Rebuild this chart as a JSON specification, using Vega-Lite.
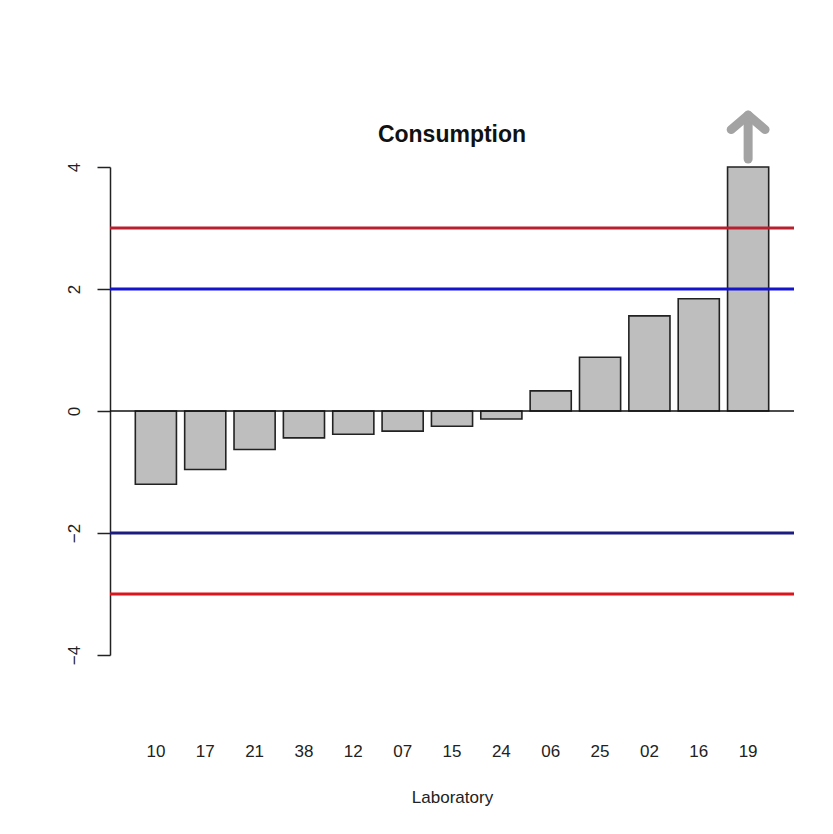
{
  "$schema": "https://vega.github.io/schema/vega-lite/v6.json",
  "autosize": "none",
  "width": 684,
  "height": 488,
  "padding": {"left": 110, "top": 167, "right": 39, "bottom": 179},
  "background": "white",
  "title": {
    "text": "Consumption",
    "font": "Liberation Sans",
    "fontSize": 23,
    "fontWeight": "bold",
    "color": "#111",
    "anchor": "middle",
    "frame": "group",
    "offset": -36
  },
  "datasets": {
    "labs": [
      {"lab": "10", "z": -1.2},
      {"lab": "17", "z": -0.96},
      {"lab": "21", "z": -0.63},
      {"lab": "38", "z": -0.44},
      {"lab": "12", "z": -0.38},
      {"lab": "07", "z": -0.33},
      {"lab": "15", "z": -0.25},
      {"lab": "24", "z": -0.13},
      {"lab": "06", "z": 0.33},
      {"lab": "25", "z": 0.88},
      {"lab": "02", "z": 1.56},
      {"lab": "16", "z": 1.84},
      {"lab": "19", "z": 4.0}
    ],
    "limits": [
      {"level": 3, "kind": "action high"},
      {"level": 2, "kind": "warning high"},
      {"level": -2, "kind": "warning low"},
      {"level": -3, "kind": "action low"}
    ],
    "arrow": [
      {"lab": "19", "from": 4.13, "to": 4.85}
    ]
  },
  "layer": [
    {
      "data": {"name": "labs"},
      "mark": {"type": "bar", "fill": "#bebebe", "stroke": "#222", "strokeWidth": 1.6},
      "encoding": {
        "x": {
          "field": "lab",
          "type": "nominal",
          "sort": null,
          "scale": {
            "domain": ["10", "17", "21", "38", "12", "07", "15", "24", "06", "25", "02", "16", "19"],
            "paddingInner": 0.1667,
            "paddingOuter": 0.513
          },
          "axis": {
            "title": "Laboratory",
            "titleFont": "Liberation Sans",
            "titleFontSize": 17,
            "titleFontWeight": "normal",
            "titleColor": "#222",
            "titlePadding": 30,
            "labelFont": "Liberation Sans",
            "labelFontSize": 17,
            "labelColor": "#222",
            "labelAngle": 0,
            "labelPadding": 88,
            "domain": false,
            "ticks": false
          }
        },
        "y": {
          "field": "z",
          "type": "quantitative",
          "scale": {"domain": [-4, 4], "nice": false, "zero": false},
          "axis": {
            "title": null,
            "values": [-4, -2, 0, 2, 4],
            "format": "d",
            "grid": false,
            "domainColor": "#222",
            "domainWidth": 1.5,
            "tickColor": "#222",
            "tickWidth": 1.5,
            "tickSize": 13,
            "labelFont": "Liberation Sans",
            "labelFontSize": 17,
            "labelColor": "#222",
            "labelAngle": -90,
            "labelAlign": "center",
            "labelBaseline": "bottom",
            "labelPadding": 14
          }
        },
        "y2": {"datum": 0}
      }
    },
    {
      "data": {"values": [{"level": 0}]},
      "mark": {"type": "rule", "color": "#111", "strokeWidth": 1.6},
      "encoding": {"y": {"field": "level", "type": "quantitative"}}
    },
    {
      "data": {"name": "limits"},
      "mark": {"type": "rule", "strokeWidth": 3},
      "encoding": {
        "y": {"field": "level", "type": "quantitative"},
        "color": {
          "field": "kind",
          "type": "nominal",
          "scale": {
            "domain": ["action high", "warning high", "warning low", "action low"],
            "range": ["#b8202e", "#1414cc", "#1c1c80", "#dc141c"]
          },
          "legend": null
        }
      }
    },
    {
      "data": {"name": "arrow"},
      "mark": {"type": "rule", "color": "#a3a3a3", "strokeWidth": 9, "strokeCap": "round"},
      "encoding": {
        "x": {"field": "lab", "type": "nominal", "sort": null},
        "y": {"field": "from", "type": "quantitative"},
        "y2": {"field": "to"}
      }
    },
    {
      "data": {"name": "arrow"},
      "mark": {
        "type": "point",
        "shape": "M-1,0.85L0,0L1,0.85",
        "filled": false,
        "stroke": "#a3a3a3",
        "strokeWidth": 9,
        "strokeCap": "round",
        "strokeJoin": "round",
        "size": 1150,
        "opacity": 1
      },
      "encoding": {
        "x": {"field": "lab", "type": "nominal", "sort": null},
        "y": {"field": "to", "type": "quantitative"}
      }
    }
  ],
  "config": {
    "view": {"stroke": null}
  }
}
